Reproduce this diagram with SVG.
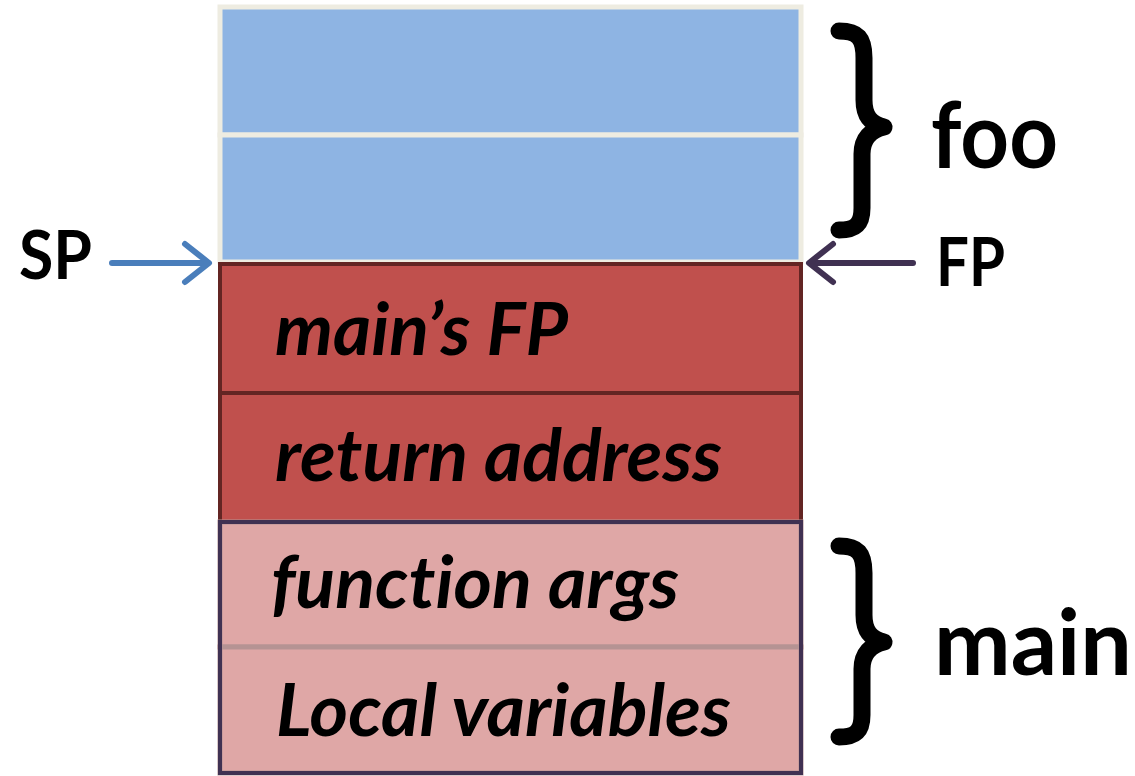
<svg xmlns="http://www.w3.org/2000/svg" width="1135" height="776" viewBox="0 0 1135 776">
  <style>
    .cellBlue { fill: #8EB4E3; stroke: #EEECE1; stroke-width: 5; }
    .cellRed { fill: #C0504D; stroke: #632523; stroke-width: 4; }
    .cellPink { fill: #DFA7A6; stroke: #B59393; stroke-width: 5; }
    text { font-variant-ligatures: none; font-feature-settings: "liga" 0, "dlig" 0; }
    .lbl { font-family: Lato, "Open Sans", "Liberation Sans", sans-serif; font-weight: bold; font-style: italic; font-size: 72px; fill: #000; }
    .big { font-family: Lato, "Open Sans", "Liberation Sans", sans-serif; font-weight: bold; fill: #000; }
    .brace { fill: none; stroke: #000; stroke-width: 17; stroke-linecap: round; stroke-linejoin: round; }
    .arrow { fill: none; stroke-width: 6; stroke-linecap: round; stroke-linejoin: round; }
  </style>
  <rect width="1135" height="776" fill="#FFFFFF"/>

  <g id="foo-frame">
    <rect id="foo-cell-1" class="cellBlue" x="220" y="7" width="581" height="128"/>
    <rect id="foo-cell-2" class="cellBlue" x="220" y="135" width="581" height="127"/>
  </g>

  <g id="mains-fp">
    <rect class="cellRed" x="220" y="264" width="581" height="129"/>
    <text class="lbl" x="275" y="355" textLength="293" lengthAdjust="spacingAndGlyphs">main’s FP</text>
  </g>

  <g id="return-address">
    <rect class="cellRed" x="220" y="393" width="581" height="129"/>
    <text class="lbl" x="275" y="481" textLength="447" lengthAdjust="spacingAndGlyphs">return address</text>
  </g>

  <g id="function-args">
    <rect class="cellPink" x="220" y="522" width="581" height="125"/>
    <text class="lbl" x="271" y="608" textLength="408" lengthAdjust="spacingAndGlyphs">function args</text>
  </g>

  <g id="local-variables">
    <rect class="cellPink" x="220" y="647" width="581" height="126"/>
    <text class="lbl" x="276" y="736" textLength="455" lengthAdjust="spacingAndGlyphs">Local variables</text>
  </g>

  <rect id="main-frame-border" x="220" y="522" width="581" height="251" fill="none" stroke="#403152" stroke-width="4"/>

  <g id="foo-label">
    <path class="brace" d="M 839 31 C 858 31, 864 38, 864 58 L 864 100 C 864 116, 871 124, 884 127 C 871 130, 862 138, 862 154 L 862 208 C 862 224, 856 230, 839 230"/>
    <text class="big" x="931" y="168" font-size="92" textLength="127" lengthAdjust="spacingAndGlyphs">foo</text>
  </g>

  <g id="main-label">
    <path class="brace" d="M 839 546 C 858 546, 864 553, 864 573 L 864 615 C 864 631, 871 639, 884 642 C 871 645, 862 653, 862 669 L 862 715 C 862 731, 856 737, 839 737"/>
    <text class="big" x="934" y="675" font-size="92" textLength="198" lengthAdjust="spacingAndGlyphs">main</text>
  </g>

  <g id="sp-label">
    <text class="big" x="19" y="279" font-size="66" textLength="73" lengthAdjust="spacingAndGlyphs">SP</text>
  </g>

  <g id="fp-label">
    <text class="big" x="936" y="286" font-size="66" textLength="69" lengthAdjust="spacingAndGlyphs">FP</text>
  </g>

  <g id="connectors">
    <g id="sp-arrow" stroke="#4A7EBB" class="arrow">
      <line x1="112" y1="263" x2="208" y2="263"/>
      <polyline points="185,244 209,263 185,282"/>
    </g>
    <g id="fp-arrow" stroke="#403152" class="arrow">
      <line x1="913" y1="263" x2="811" y2="263"/>
      <polyline points="833,244 809,263 833,282"/>
    </g>
  </g>
</svg>
